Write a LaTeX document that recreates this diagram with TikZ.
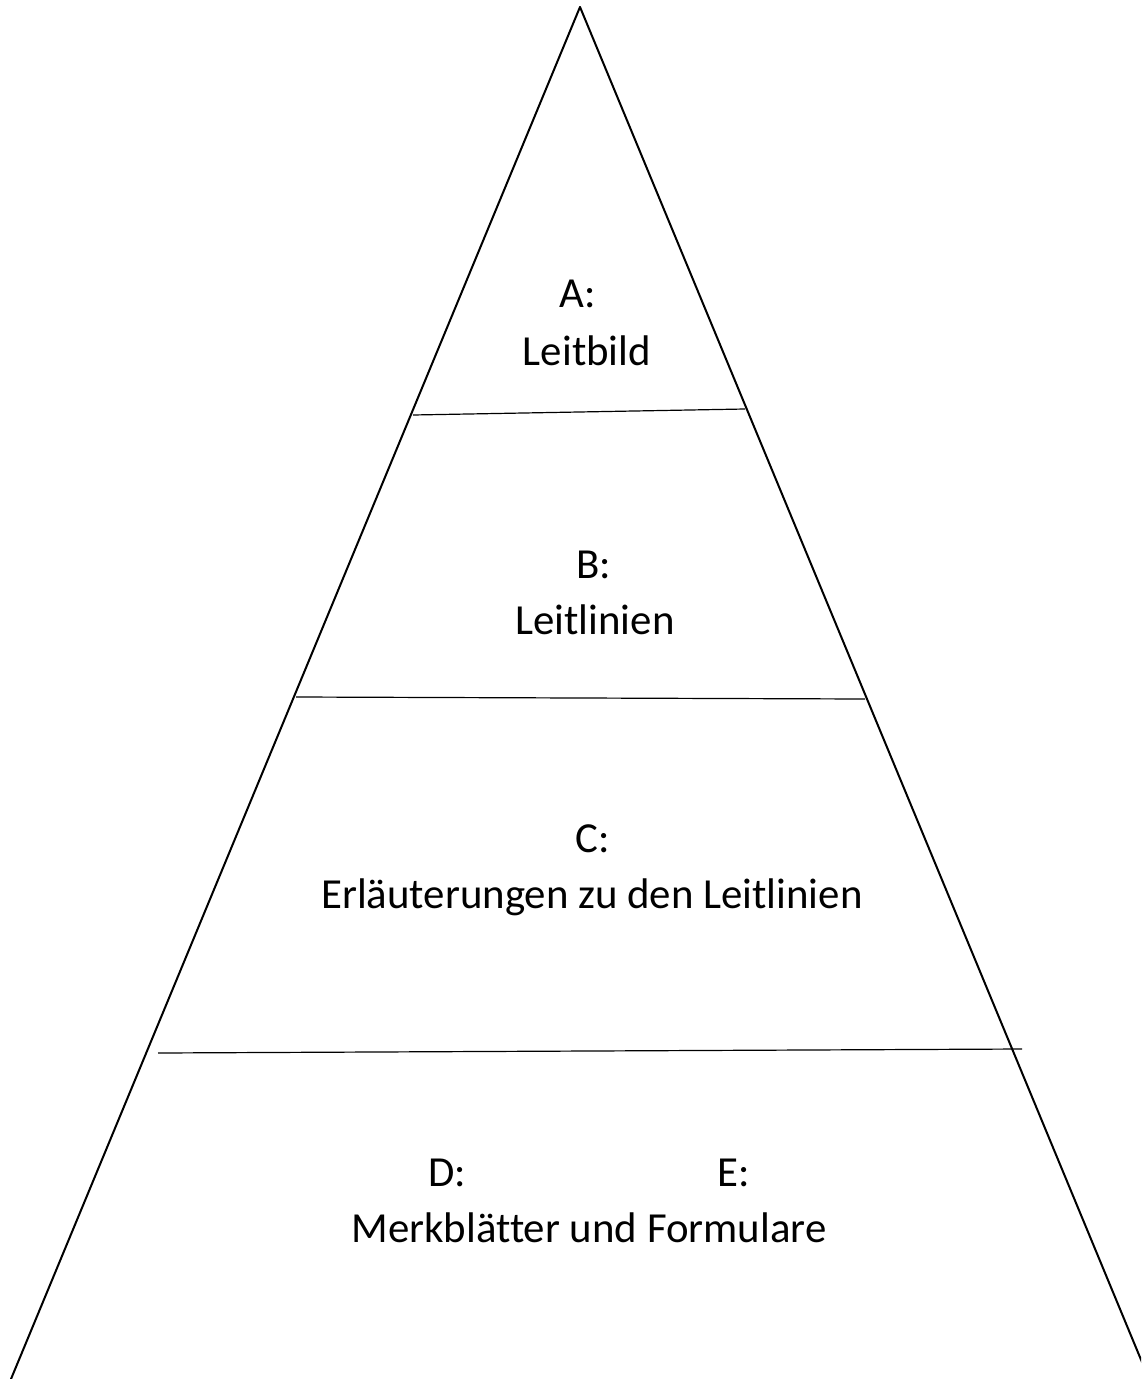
\documentclass[tikz,border=0pt]{standalone}
\usepackage{fontspec}
\setmainfont[Ligatures=NoCommon]{Carlito}
\usetikzlibrary{positioning}

\tikzset{
  leg/.style={line width=2bp, line cap=round},
  tier/.style={line width=1.2bp},
  tag/.style={anchor=base, inner sep=0pt, font=\fontsize{43}{52}\selectfont},
}

\begin{document}
\begin{tikzpicture}[x=1bp,y=1bp,yscale=-1,xscale=1]
\useasboundingbox (0,0) rectangle (1141,1379);
\clip (0,0) rectangle (1141,1379);

% Corners of the pyramid
\coordinate (apex) at (580,7);
\coordinate (footL) at (11,1379);
\coordinate (footR) at (1149,1379);

% Legs
\draw [leg] (apex) -- (footL);
\draw [leg] (apex) -- (footR);

% Tier lines
\coordinate (t1L) at (413,415);
\coordinate (t1R) at (745,409);
\coordinate (t2L) at (296,697);
\coordinate (t2R) at (865,699);
\coordinate (t3L) at (158,1053);
\coordinate (t3R) at (1022,1049);
\draw [tier] (t1L) -- (t1R);
\draw [tier] (t2L) -- (t2R);
\draw [tier] (t3L) -- (t3R);

% Text Node
\node [tag] (tagA) at (578,307) {A:};
\node [tag] (nameA) at (587,365) {Leitbild};
% Text Node
\node [tag] (tagB) at (594,578) {B:};
\node [tag] (nameB) at (595,634) {Leitlinien};
% Text Node
\node [tag] (tagC) at (593,852) {C:};
\node [tag] (nameC) at (592,908) {Erläuterungen zu den Leitlinien};
% Text Node
\node [tag] (tagD) at (447,1186) {D:};
\node [tag] (tagE) at (734,1186) {E:};
\node [tag] (nameD) at (589,1242) {Merkblätter und Formulare};

\end{tikzpicture}
\end{document}
